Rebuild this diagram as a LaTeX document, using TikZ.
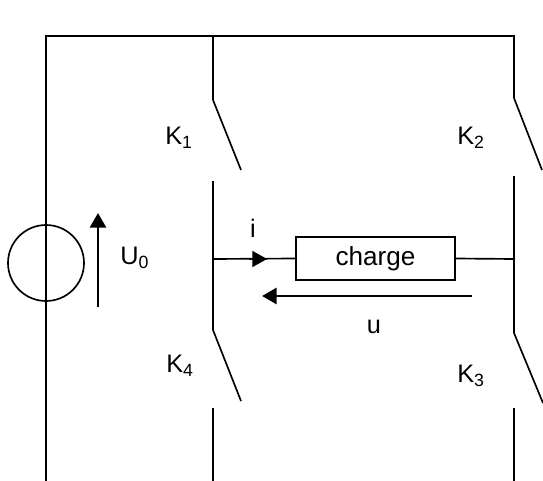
\documentclass[tikz,border=0pt]{standalone}
\usepackage{fontspec}
\setmainfont{Liberation Sans}
\usetikzlibrary{arrows.meta}
\tikzset{
  wire/.style={line width=1.25pt, black},
  volt/.style={line width=2.2pt, black, -{Triangle[length=11pt, width=12pt]}},
  lbl/.style={font=\fontsize{19}{22}\selectfont, inner sep=0pt}
}

\begin{document}
\begin{tikzpicture}[x=0.75pt, y=-0.75pt]
  \useasboundingbox (0, 0) rectangle (543, 481);

  % Rails
  \coordinate (topl) at (46, 36);
  \coordinate (botl) at (46, 481);
  \coordinate (topa) at (213, 36);
  \coordinate (topb) at (514, 36);
  \draw[wire] (botl) -- (topl) -- (topb) -- (514, 98) coordinate (k2a);
  \draw[wire] (topa) -- (213, 100) coordinate (k1a);

  % Source
  \node[draw, circle, line width=1.25pt, minimum size=57pt, inner sep=0pt] (src) at (46, 263) {};
  \coordinate (ub) at (98, 307);
  \coordinate (ut) at (98, 213);
  \draw[volt] (ub) -- (ut);
  \node[lbl, anchor=west] (uzero) at (120, 258) {U\textsubscript{0}};

  % Switches
  \coordinate (k1b) at (241, 170);
  \coordinate (k2b) at (542, 170);
  \coordinate (k4a) at (213, 330);
  \coordinate (k4b) at (241, 401);
  \coordinate (k3a) at (514, 333);
  \coordinate (k3b) at (543, 403);
  \draw[wire] (k1a) -- (k1b);
  \draw[wire] (k2a) -- (k2b);
  \draw[wire] (k4a) -- (k4b);
  \draw[wire] (k3a) -- (k3b);
  \node[lbl] (kone) at (179, 138) {K\textsubscript{1}};
  \node[lbl] (ktwo) at (471, 138) {K\textsubscript{2}};
  \node[lbl] (kfour) at (180, 366) {K\textsubscript{4}};
  \node[lbl] (kthree) at (471, 376) {K\textsubscript{3}};

  % Legs
  \coordinate (lega) at (213, 181);
  \coordinate (legb) at (514, 176);
  \draw[wire] (lega) -- (k4a);
  \draw[wire] (legb) -- (k3a);
  \draw[wire] (213, 408) coordinate (k4c) -- (213, 481) coordinate (k4d);
  \draw[wire] (514, 408) coordinate (k3c) -- (514, 481) coordinate (k3d);

  % Load
  \node[draw, line width=1.25pt, minimum width=119pt, minimum height=32pt, inner sep=0pt, font=\fontsize{19.6}{22}\selectfont] (charge) at (375.5, 258.5) {\raisebox{2pt}{charge}};
  \coordinate (ja) at (213, 259);
  \coordinate (jb) at (514, 259);
  \draw[wire] (ja) -- (charge.west);
  \draw[wire] (charge.east) -- (jb);
  \draw[line width=1.25pt, -{Triangle[length=11pt, width=12pt]}] (ja) ++(36, 0) coordinate (ia) -- (267, 259) coordinate (ib);
  \node[lbl] (icur) at (253, 228) {i};

  % Voltage
  \coordinate (ua) at (472, 296);
  \coordinate (ubt) at (262, 296);
  \draw[volt] (ua) -- (ubt);
  \node[lbl] (uload) at (374, 327) {u};
\end{tikzpicture}
\end{document}
